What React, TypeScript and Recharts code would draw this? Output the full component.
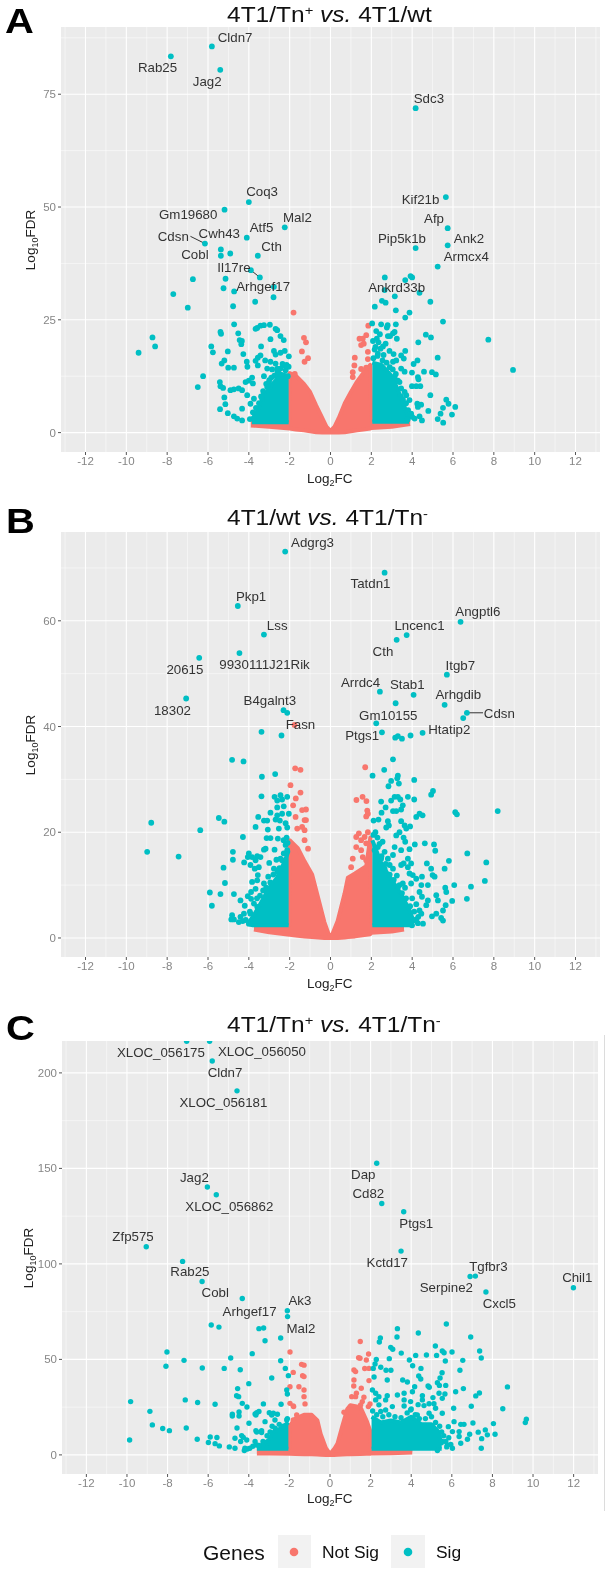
import React from 'react';
import { ComposedChart, Area, Scatter, XAxis, YAxis, CartesianGrid, ReferenceLine } from 'recharts';

type Pt = [number, number];
type Band = [number, number, number]; // x, low, high of the dense part of the volcano
type Gene = [string, number, number];

const RED = '#F8766D';
const TEAL = '#00BFC4';
const TICK_GREY = '#868686';

const xTicks = [-12, -10, -8, -6, -4, -2, 0, 2, 4, 6, 8, 10, 12];
const xMinor = [-13, -11, -9, -7, -5, -3, -1, 1, 3, 5, 7, 9, 11, 13];

// ---- Panel A
const aYTicks = [0, 25, 50, 75];
const aYMinor = [12.5, 37.5, 62.5, 87.5];
const aNotSigBand: Band[] = [[-3.9, 1.6, 2.2], [-3, 1.3, 2.6], [-2.01, 0.9, 2.6], [-2, 0.9, 13.2], [-1.7, 0.7, 12.6], [-1.3, 0.5, 10.8], [-1, 0.3, 9], [-0.7, 0.1, 6], [-0.4, 0, 3.2], [-0.2, 0, 1.3], [0, 0, 0.4], [0.2, 0, 1.3], [0.4, 0, 3.2], [0.7, 0.1, 6.5], [1, 0.3, 9], [1.3, 0.5, 11.3], [1.6, 0.7, 13.2], [1.95, 0.9, 15], [2, 1, 2.6], [3, 1.3, 2.6], [3.9, 1.9, 2.6]];
const aSigBandLeft: Band[] = [[-3.85, 2.3, 2.8], [-3.5, 2.3, 5.5], [-3.2, 2.3, 8.5], [-2.8, 2.3, 11], [-2.4, 2.3, 13], [-2.05, 2.3, 12.5]];
const aSigBandRight: Band[] = [[2.05, 2.4, 15.5], [2.5, 2.4, 15], [3, 2.4, 12.5], [3.3, 2.4, 9.5], [3.6, 2.4, 6], [3.85, 2.4, 3]];
const aNotSig: Pt[] = [[-1.81, 26.6], [-1.27, 15.7], [-1.75, 13], [-1.3, 21], [-1.2, 20], [-1.4, 18], [-1.1, 16.5], [1.85, 23.7], [1.42, 20.8], [1.58, 20.8], [1.75, 21.6], [1.63, 19.7], [1.5, 19.4], [1.83, 17.9], [1.83, 16.3], [1.19, 16.6], [1.17, 14.9], [1.5, 14.1], [1.75, 14.4], [1.09, 13.4], [1.09, 12.3]];
const aSig: Pt[] = [
  [-5.81, 85.6], [-7.82, 83.4], [-5.4, 80.4], [-4, 51.1], [-5.19, 49.4], [-2.24, 45.5], [-4.1, 43.2], [-6.15, 41.9], [-5.37, 40.6], [-4.91, 39.7], [-5.37, 39.2], [-3.56, 39.2],
  [4.17, 71.9], [5.65, 52.2], [5.74, 45.3], [5.74, 41.5], [4.17, 40.9], [5.25, 36.8],
  [-6.74, 34], [-5.14, 34.1], [-5.24, 32], [-4.72, 31.3], [-7.7, 30.7], [-6.99, 27.7], [-4.77, 28], [-3.69, 29], [-2.79, 30], [-2.77, 32.3], [-3.9, 36], [-3.46, 34.4],
  [-4.72, 24], [-5.39, 22.3], [-5.36, 21.9], [-4.52, 22], [-8.72, 21.1], [-8.59, 19.1], [-9.4, 17.7], [-4.45, 20.5], [-4.34, 20.3], [-4.37, 19.6], [-5.84, 19.1], [-5.76, 17.8], [-5.03, 18], [-4.27, 17.4], [-4.1, 15.7], [-4.07, 14.6], [-5.2, 16], [-5.33, 15.3], [-5.01, 14.4], [-4.73, 14.4],
  [-6.24, 12.5], [-6.5, 10.1], [-5.42, 11.2], [-5.39, 10.3], [-5.26, 9.9], [-4.9, 9.4], [-4.73, 9.6], [-4.5, 9.8], [-4.33, 9.4], [-4.08, 8.3], [-5.2, 7.8], [-5.15, 6.3], [-5.41, 5.2], [-5.03, 4.3], [-4.33, 5.3], [-4.73, 3.6], [-4.57, 3.1], [-4.33, 2.7], [-3.92, 6.4], [-3.75, 7.5], [-4.16, 11.2], [-4, 11.5], [-3.84, 12.2], [-3.8, 10.9],
  [-3.67, 23], [-3.59, 23.2], [-3.43, 23.7], [-3.26, 23.8], [-2.97, 23.9], [-2.69, 23], [-2.61, 22.7], [-2.45, 21.4], [-2.29, 20.5], [-2.94, 20.7], [-3.4, 19.1], [-2.77, 18.1], [-2.69, 17.3], [-2.45, 17.7], [-2.24, 18.1], [-2.04, 16.9], [-3.43, 17.1], [-3.56, 16.6], [-3.67, 15.9], [-3.56, 14.9], [-3.2, 16], [-2.94, 15.7], [-2.69, 15.3], [-3.1, 14.2], [-2.86, 14], [-2.29, 14.9], [-2.61, 14.2], [-3.26, 12.5], [-2.53, 13.1], [-2.09, 12.5], [-3.02, 11], [-3.1, 10.1], [-3.26, 8.6], [-3.35, 7.5],
  [-3.95, 3], [-3.8, 4.5], [-3.65, 5.5], [-3.5, 6.5], [-3.4, 8], [-3.3, 9.2], [-3.15, 10.8], [-3, 11.6], [-2.9, 12.2], [-2.75, 12.6], [-2.6, 13.5], [-2.45, 14.2], [-2.2, 13.8], [-3.6, 4], [-3.75, 3.2], [-2.15, 15], [-2.35, 15.2], [-2.05, 14.6],
  [2.66, 34.4], [3.66, 33.8], [3.92, 34.7], [4, 34.4], [2.65, 31.6], [4.36, 31], [4.89, 29], [3.15, 30.2], [2.52, 29.2], [2.7, 28.8], [2.17, 27.9], [3.2, 27.1], [3.87, 26.6], [3.66, 25.5], [5.51, 24.6], [2.04, 24.2], [2.48, 24], [2.8, 23.8], [2.76, 23.3], [3.2, 24], [2.24, 22.5], [2.42, 21.8], [2.81, 21.4], [2.92, 21.4], [3.14, 22.3], [3.06, 22], [3.25, 20.8], [2.08, 20.3], [2.27, 20.8], [2.7, 19.7], [2.57, 19.1], [4.67, 21.7], [4.92, 21.1], [4.3, 20], [7.73, 20.6], [8.94, 13.9], [3.66, 18.1], [2.16, 18.4], [2.32, 17.5], [2.89, 18.1], [3.09, 17.4], [3.46, 17.1], [3.59, 16.4], [5.25, 16.6], [4.26, 16], [4.07, 15.2], [3.06, 15.7], [3.22, 16],
  [3.46, 14.2], [3.63, 13.5], [3.99, 13.3], [4.58, 13.5], [4.97, 13.4], [5.16, 12.9], [4.28, 12.3], [4.31, 11.8], [3.99, 10.3], [4.2, 10.3], [4.4, 10.3], [4.89, 8.3], [5.67, 7.3], [5.78, 6.4], [6.11, 5.7], [5.51, 5.5], [5.39, 4.2], [5.25, 3], [5.95, 4], [5.52, 2.2], [4.25, 6.4], [4.44, 6.2], [4.28, 5.7], [4.79, 4.8], [4.36, 3.6], [4.48, 2.7], [4.12, 3.1], [3.87, 7.2], [3.71, 8.3], [3.46, 9.8], [3.63, 9], [3.38, 11.2], [3.14, 12.3],
  [2.1, 16.5], [2.3, 17], [2.55, 16], [2.75, 15.5], [2.9, 14.5], [3.05, 14], [3.2, 13], [3.3, 11.5], [3.45, 8], [3.55, 7.3], [3.7, 6.5], [3.8, 5], [3.95, 4.2], [4, 3.5], [2.2, 19], [2.35, 20], [2.45, 18.6], [2.6, 17.2], [3.78, 2.9],
];
const aGenes: Gene[] = [['Cldn7', -4.67, 87.7], ['Rab25', -8.47, 81], ['Jag2', -6.04, 77.9], ['Coq3', -3.35, 53.4], ['Gm19680', -6.97, 48.3], ['Mal2', -1.62, 47.8], ['Atf5', -3.38, 45.5], ['Cdsn', -7.7, 43.5], ['Cwh43', -5.45, 44.1], ['Cobl', -6.64, 39.4], ['Cth', -2.89, 41.3], ['Il17re', -4.73, 36.6], ['Arhgef17', -3.3, 32.5], ['Sdc3', 4.82, 74.1], ['Kif21b', 4.41, 51.7], ['Afp', 5.07, 47.4], ['Pip5k1b', 3.5, 43], ['Ank2', 6.78, 43], ['Armcx4', 6.65, 39.1], ['Ankrd33b', 3.24, 32.2]];
const aLeaders: [Pt, Pt][] = [[[-6.86, 43.5], [-6.15, 41.9]], [[-3.9, 36], [-3.46, 34.4]]];

// ---- Panel B
const bYTicks = [0, 20, 40, 60];
const bYMinor = [10, 30, 50, 70];
const bNotSigBand: Band[] = [[-3.75, 1.6, 2.4], [-3, 1.1, 2.4], [-2.01, 0.6, 2.4], [-2, 0.6, 18.5], [-1.6, 0.4, 17], [-1.27, 0.3, 14.5], [-0.9, 0.2, 12], [-0.6, 0.1, 7.5], [-0.3, 0, 3], [-0.1, 0, 0.8], [0, 0, 0.3], [0.1, 0, 0.8], [0.35, 0, 3.2], [0.69, 0.1, 8.4], [0.85, 0.2, 11.4], [1.2, 0.3, 12.2], [1.75, 0.6, 13.6], [1.95, 0.7, 19], [2, 1, 2.4], [3, 1.2, 2.4], [3.6, 1.6, 2.4]];
const bSigBandLeft: Band[] = [[-4, 2.6, 3], [-3.8, 2.4, 4], [-3.5, 2.4, 6], [-3, 2.4, 9.5], [-2.6, 2.4, 11.5], [-2.3, 2.4, 14], [-2.05, 2.4, 16.5]];
const bSigBandRight: Band[] = [[2.05, 2.4, 18.5], [2.5, 2.4, 14], [3, 2.4, 11], [3.5, 2.4, 8], [3.9, 2.4, 5], [4.1, 2.4, 2.8]];
const bNotSig: Pt[] = [[-1.76, 40.3], [-1.73, 32.1], [-1.47, 31.8], [-1.96, 28.9], [-1.47, 27.5], [-1.7, 26.4], [-1.71, 22.9], [-1.83, 25.1], [-1.39, 24.2], [-1.27, 20.4], [-1.63, 20.7], [-1.27, 22.3], [-1.39, 21], [-1.2, 24.3], [-1.2, 22.3], [-1.27, 18.5], [-1.1, 16.9], [1.7, 32.3], [1.27, 26.1], [1.57, 26.7], [1.76, 25.9], [1.8, 24.1], [1.75, 23], [1.83, 23.5], [1.26, 19.1], [1.39, 19.8], [1.5, 18.5], [1.67, 19.1], [1.26, 17.2], [1.75, 17.9], [1.01, 13.4], [1.09, 15], [1.58, 15.3], [1.75, 14.7], [1.5, 16.6], [1.83, 20]];
const bSig: Pt[] = [
  [-2.22, 73.1], [-4.54, 62.8], [-3.26, 57.4], [-4.46, 53.9], [-6.43, 53], [-7.07, 45.3], [-2.3, 43.1], [-2.12, 42.6], [-3.38, 39], [-2.4, 38.3],
  [2.65, 69.1], [6.37, 59.8], [3.73, 57.3], [3.24, 56.4], [5.7, 49.8], [2.42, 46.6], [4.07, 46], [3.19, 44.4], [5.59, 44.1], [6.68, 42.6], [6.5, 41.6], [2.24, 40.6], [2.52, 38.9], [3.17, 37.9], [3.3, 38.2], [3.5, 37.7], [3.92, 38.3], [4.51, 38.8],
  [-4.82, 33.7], [-4.26, 33.4], [-3.36, 30.5], [-2.71, 31], [-3.38, 26.8], [-2.74, 26.7], [-2.45, 27], [-2.12, 26.7], [-2.61, 26], [-2.37, 26.2], [-2.61, 24.7], [-2.29, 24.9], [-2.37, 23.5], [-2.04, 23.5], [-2.61, 23.2], [-2.94, 23.7], [-3.54, 22.9], [-3.26, 22.2], [-3.1, 22.2], [-2.69, 22.4], [-2.48, 22.2], [-2.2, 21.7], [-2.53, 20.7], [-2.12, 20.9], [-3.67, 21], [-3.07, 20.5],
  [-8.78, 21.8], [-5.47, 22.7], [-5.2, 22], [-6.38, 20.4], [-4.29, 19.1], [-3.13, 18.9], [-2.94, 18.9], [-2.58, 18.8], [-8.98, 16.3], [-7.44, 15.4], [-4.78, 16.3], [-4.78, 14.8], [-5.24, 13.3], [-5.17, 10.4], [-5.91, 8.6], [-5.39, 8.3], [-5.81, 6.1], [-4.73, 8.3], [-4.23, 14.3],
  [-4, 16], [-4.05, 15.3], [-3.84, 15.3], [-3.59, 15.5], [-3.43, 15.3], [-3.67, 14.7], [-3.92, 13.8], [-3.51, 13.4], [-3.71, 13.1], [-3.26, 16.7], [-3.18, 16.9], [-2.74, 16.7], [-3, 14.2], [-2.77, 13.1], [-2.58, 12.8], [-3.56, 11.9], [-3.84, 10.6], [-3.59, 10.9], [-3.67, 9.3], [-3.89, 8.7], [-4.05, 7.9], [-3.89, 7.4], [-4.41, 7.1], [-4.2, 6.1], [-3.26, 10.3], [-3.05, 11.6], [-4.82, 4.3], [-4.73, 3.5], [-4.86, 3.5], [-4.41, 4], [-4.49, 3], [-4.24, 4.6], [-4, 2.7], [-3.92, 4.6], [-3.59, 5.9], [-2.2, 17.6], [-2.12, 16.6], [-2.29, 16], [-2.37, 14.7],
  [-3.95, 5], [-3.75, 6.5], [-3.6, 7.5], [-3.45, 8], [-3.3, 9], [-3.15, 9.5], [-2.95, 10.5], [-2.8, 12], [-2.6, 12.5], [-2.45, 15], [-2.3, 18.5], [-2.15, 19], [-4.15, 3.4], [-4.3, 3.2], [-2.5, 13.2], [-2.65, 14.8], [-2.1, 18],
  [3.06, 33.8], [2.63, 31.8], [2.06, 30.7], [3.3, 30.7], [3.27, 30.2], [2.97, 29.7], [3.35, 29.2], [2.84, 28.7], [4.1, 29.9], [5.02, 27.8], [4.93, 27.1], [3.14, 26.7], [3.3, 26.7], [2.97, 26], [2.48, 25.8], [3.42, 26.2], [3.79, 26.7], [4.1, 26.2], [2.7, 24.7], [2.5, 23.7], [3.06, 24], [3.22, 24], [3.54, 25.1], [3.46, 24.3], [6.11, 23.8], [6.19, 23.4], [8.19, 24], [4.36, 23.5], [4.51, 23.2], [4.2, 22.9], [2.11, 22.2], [2.35, 22.4], [2.81, 22.1], [3.46, 22.1], [2.86, 21.3], [2.73, 20.9], [3.63, 21.3], [3.71, 20.7], [3.9, 21.1], [3.22, 19.4], [3.38, 20], [3.58, 19], [3.66, 18.2],
  [4.13, 17.7], [4.62, 17.9], [5.07, 17.7], [5.13, 16.5], [6.7, 16], [7.63, 14.3], [5.8, 14.6], [4.72, 14.1], [4.93, 13.1], [5.59, 13.1], [7.56, 10.8], [6.88, 9.7], [6.06, 10], [5.62, 9.5], [5.67, 8.7], [6.68, 7.4], [5.96, 7], [5.18, 8.1], [5.26, 7.1], [4.77, 7.1], [4.69, 6.2], [5.64, 6.2], [5.51, 5.2], [5.18, 4.6], [4.97, 4.1], [5.42, 3.8], [5.51, 3.3], [4.53, 2.7], [4.28, 2.8], [3.99, 2.4], [4.45, 4.6], [4.36, 5.2], [4.48, 7.8], [4.36, 8.7], [4.45, 10], [4.77, 10], [5.1, 11.6], [5, 11.9], [4.48, 11.6], [3.87, 12.2], [4.03, 11.9], [4.2, 11.2], [3.95, 14.1], [3.79, 13.4], [3.46, 13.8], [3.58, 14.1], [3.87, 16.8], [3.79, 15], [3.14, 17.2], [2.65, 16.3], [2.32, 17.2], [2.16, 16.6], [3.06, 15.7], [3.46, 16.6], [2.24, 14.7], [2.81, 15], [2.48, 15], [3.06, 13.1], [2.65, 13.1], [3.54, 10.3], [3.38, 10], [3.95, 10.3],
  [2.1, 19.5], [2.2, 20], [2.3, 19], [2.5, 15.5], [2.7, 14], [2.9, 12], [3.1, 11], [3.3, 9.5], [3.5, 8.5], [3.7, 7.5], [3.9, 6], [4.1, 5], [4.2, 3.5], [4.3, 4], [2.4, 17.8], [2.55, 18.2], [2.9, 13.8], [3.25, 11.8], [3.65, 9.5], [4, 7.5], [4.2, 6.4],
];
const bGenes: Gene[] = [['Adgrg3', -0.88, 74.9], ['Pkp1', -3.89, 64.7], ['Lss', -2.61, 59.2], ['9930111J21Rik', -3.23, 51.8], ['20615', -7.13, 50.9], ['18302', -7.74, 43.1], ['B4galnt3', -2.97, 45], ['Fasn', -1.47, 40.4], ['Tatdn1', 1.96, 67.1], ['Angptl6', 7.22, 61.7], ['Lncenc1', 4.36, 59.1], ['Cth', 2.57, 54.3], ['Itgb7', 6.36, 51.6], ['Arrdc4', 1.47, 48.4], ['Stab1', 3.76, 47.9], ['Arhgdib', 6.26, 46], ['Cdsn', 8.27, 42.5], ['Gm10155', 2.83, 42.2], ['Htatip2', 5.82, 39.5], ['Ptgs1', 1.55, 38.4]];
const bLeaders: [Pt, Pt][] = [[[6.68, 42.6], [7.47, 42.6]]];

// ---- Panel C
const cYTicks = [0, 50, 100, 150, 200];
const cYMinor = [25, 75, 125, 175];
const cNotSigBand: Band[] = [[-3.6, 0.7, 3.2], [-3, 0.7, 3.2], [-2.01, 0.6, 3.2], [-2, 0.6, 15], [-1.7, 0.5, 19], [-1.28, 0.4, 21], [-0.9, 0.3, 21], [-0.62, 0.2, 18], [-0.46, 0.1, 11], [-0.2, 0, 3.5], [0, 0, 0.5], [0.2, 0, 3], [0.37, 0.1, 6], [0.6, 0.2, 14.8], [0.85, 0.3, 24], [1, 0.4, 26], [1.5, 0.5, 25], [1.8, 0.6, 18], [1.97, 0.6, 13], [2, 0.7, 3.2], [3, 0.9, 3.2], [4.05, 1.2, 3]];
const cSigBandLeft: Band[] = [[-3.6, 3.2, 4], [-3.3, 3.2, 5.5], [-3, 3.2, 8], [-2.8, 3.2, 12], [-2.4, 3.2, 14], [-2.05, 3.2, 17]];
const cSigBandRight: Band[] = [[2.05, 3.2, 20], [2.5, 3.2, 17], [3, 3.2, 18], [3.5, 3.2, 17], [4, 3.2, 20], [4.5, 3.2, 16], [5, 3.2, 16], [5.35, 3.2, 12], [5.5, 3.2, 5]];
const cNotSig: Pt[] = [[-1.97, 53.9], [-1.81, 43.2], [-1.79, 25.3], [-1.4, 47.4], [-1.35, 41.5], [-1.97, 35.7], [-1.53, 35.7], [-1.28, 34], [-1.97, 27], [-1.81, 25.6], [-1.64, 20.9], [-1.81, 18.3], [-1.28, 30.5], [-1.23, 26.7], [-1.28, 47], [-1.28, 41], [1.49, 59.4], [1.9, 52.8], [1.48, 50.6], [1.79, 49.7], [1.41, 50.9], [1.18, 44.5], [1.26, 43.6], [1.71, 45.2], [1.92, 45.3], [1.18, 39.2], [1.92, 38.9], [1.17, 36.1], [1.54, 34.9], [1.3, 32.3], [1.07, 30.5], [1.26, 30.5], [1.67, 30.2], [1.59, 27.9], [1.51, 26.2], [1.97, 26.7], [1.89, 25.3], [0.69, 22.3], [0.85, 20]];
const cSig: Pt[] = [
  [-7.06, 216.6], [-5.93, 216.6], [-5.8, 206.2], [-4.58, 190.6], [-6.04, 140.3], [-5.6, 136.2], [-9.05, 109], [-7.26, 101.3], [-6.3, 90.8],
  [2.3, 152.7], [2.55, 131.6], [3.63, 127.3], [3.5, 106.7], [6.9, 93.4], [7.16, 93.6], [11.99, 87.5], [7.68, 85.3],
  [5.73, 68.5], [3.32, 66.1], [3.3, 61.7], [4.35, 63.8], [2.48, 61.2], [2.43, 59.1], [6.93, 61.7], [2.99, 56.3], [3.09, 55.3], [5.19, 57], [3.51, 53.3], [4.22, 52.1], [4.75, 52.3], [5.25, 52.1], [5.53, 54.4], [5.62, 53.5], [6.01, 53.9], [7.37, 54.4], [7.45, 50.7], [2.92, 50.4], [3.91, 49.7], [4.07, 46.7], [6.54, 49.5], [5.68, 49.2], [2.28, 50], [2.22, 47.6], [2.13, 45.3], [2.5, 45.9], [2.76, 44.3], [3, 44.3], [4.48, 45.3], [6.4, 44.3], [5.52, 43], [4.37, 41.3], [4.47, 39.7], [5.42, 40.3], [5.29, 37.8], [5.39, 36.4], [2.17, 40.8], [2.82, 39.2], [3.58, 39.2], [3.81, 38.2], [4.17, 35.7], [4.83, 36.1], [4.89, 35.4], [5.7, 36.4], [8.74, 35.6], [6.57, 34.7], [6.19, 33.1], [7.36, 32.4], [7.18, 30.9], [5.66, 31.9], [5.37, 32.3], [5.53, 29.6], [5.07, 30], [4.55, 31], [4.55, 28.8], [2.09, 34], [2.25, 32.3], [2.41, 30.5], [2.82, 31], [2.74, 28.8], [3.32, 31.4], [3.65, 32.3], [4.06, 33.1], [3.65, 28.8], [3.97, 27.9],
  [6.96, 25.5], [8.51, 24.2], [6.09, 24.4], [9.67, 18.7], [9.62, 16.9], [8.05, 16.4], [8.13, 10.8], [7.04, 16.7], [7.65, 13.1], [7.75, 10.5], [7.47, 8.5], [7.45, 3.5], [7.3, 11.9], [6.88, 10.8], [6.77, 8.2], [6.44, 6.1], [6.36, 12.2], [6.11, 17.4], [6.44, 16], [6.6, 16], [5.83, 14.8], [6.03, 12.2], [6.36, 9.6], [6.03, 3.5], [5.78, 5.2], [5.53, 7], [5.29, 2.3], [5.53, 21.8], [5.12, 26.8], [4.88, 26.8], [4.63, 25.8], [4.34, 26.3], [4.88, 21.8], [5.2, 24.4], [3.07, 25.3], [2.74, 23.5], [3.65, 25.6], [3.97, 23.5], [4.3, 20.9], [2.41, 26.2], [2.25, 28.8], [2.5, 22.7],
  [2.1, 23], [2.3, 21], [2.6, 20], [2.9, 21], [3.2, 20], [3.5, 19.5], [3.8, 22], [4, 24], [4.2, 21], [4.4, 19], [4.7, 19], [5, 20], [5.2, 17], [5.4, 15], [5.6, 10], [5.7, 7], [5.5, 12], [5.75, 4.2], [5.95, 5.5], [5.85, 9],
  [-4.32, 81.9], [-2.1, 75.5], [-2.09, 72.4], [-5.85, 68], [-5.47, 66.9], [-3.5, 66.1], [-3.27, 66.4], [-3.2, 59.8], [-2.43, 61.2], [-8.03, 53.9], [-3.83, 53], [-4.89, 50.7], [-7.19, 49.5], [-2.43, 49.3], [-8.08, 46.4], [-6.29, 45.5], [-5.21, 45.3], [-4.42, 44.6], [-2.2, 45.3], [-2.05, 41.5], [-2.87, 40.3], [-4, 37.3], [-4.55, 34.7], [-4.6, 31], [-4.5, 30.5], [-2.13, 34], [-2.1, 31.9], [-9.82, 27.9], [-7.13, 28.8], [-6.52, 27.4], [-5.66, 26.5], [-4.32, 27], [-4.09, 25.1], [-3.28, 26.7], [-2.41, 26.5], [-8.87, 22.8], [-4.81, 21.3], [-4.81, 20.4], [-4.48, 22.5], [-4.48, 20.4], [-3.69, 21.4], [-3.61, 22.1], [-3.5, 22.7], [-3.65, 20.9], [-2.99, 22.1], [-2.79, 21.8], [-2.59, 21.3], [-2.87, 20.9], [-2.71, 18.3], [-3.2, 17.4], [-2.13, 18.3], [-8.75, 15.7], [-3.99, 16.6], [-8.24, 13.8], [-7.91, 12.7], [-7.08, 14.1], [-4.58, 14.1], [-3.65, 12.7], [-3.61, 12], [-3.37, 12.7], [-3.37, 11.7], [-5.9, 9.4], [-5.57, 9.1], [-6.54, 8.2], [-9.87, 7.8], [-4.68, 8.7], [-4.35, 10.1], [-4.27, 9.2], [-4.4, 7], [-4.1, 7.8], [-5.99, 6.5], [-5.66, 5.9], [-5.45, 4.7], [-4.96, 4.2], [-4.68, 3.5], [-4.19, 3.5], [-4.22, 2.3], [-4.07, 3.1], [-3.69, 7], [-3.61, 5.2], [-3.28, 5.2], [-2.96, 6.1],
  [-3.3, 7], [-3.1, 10], [-2.95, 12], [-2.7, 14], [-2.5, 16], [-2.3, 15], [-2.1, 19], [-3.5, 5], [-3.8, 4.5], [-3.95, 3.5], [-2.85, 15],
];
const cGenes: Gene[] = [['XLOC_056175', -8.33, 210.9], ['XLOC_056050', -3.35, 211.3], ['Cldn7', -5.17, 200.5], ['XLOC_056181', -5.25, 184.8], ['Jag2', -6.68, 145.2], ['XLOC_056862', -4.96, 130.2], ['Zfp575', -9.7, 114.2], ['Rab25', -6.9, 96.2], ['Cobl', -5.65, 84.9], ['Arhgef17', -3.96, 75], ['Ak3', -1.48, 80.7], ['Mal2', -1.43, 66.2], ['Dap', 1.64, 147], ['Cd82', 1.89, 136.7], ['Ptgs1', 4.25, 121.2], ['Kctd17', 2.82, 100.8], ['Tgfbr3', 7.8, 98.7], ['Serpine2', 5.73, 87.5], ['Cxcl5', 8.34, 79.3], ['Chil1', 12.18, 92.7]];

const toPoints = (pts: Pt[]) => pts.map(([x, y]) => ({ x, y }));
const toBand = (rows: Band[]) => rows.map(([x, low, high]) => ({ x, range: [low, high] }));
const toGenes = (rows: Gene[]) => rows.map(([name, x, y]) => ({ name, x, y }));

const sans = "'Liberation Sans', Arial, sans-serif";

function dotShape(color: string, r: number) {
  return (props: any) => <circle cx={props.cx} cy={props.cy} r={r} fill={color} />;
}

function geneLabel(props: any) {
  return (
    <text x={props.cx} y={props.cy} dy=".35em" textAnchor="middle" fontSize={13.3} fontFamily={sans} fill="#333">
      {props.payload.name}
    </text>
  );
}

interface PanelProps {
  top: number;
  left: number;
  right: number;
  marginTop: number;
  axisHeight: number;
  yDomain: [number, number];
  yTicks: number[];
  yMinor: number[];
  notSigBand: Band[];
  sigLeft: Band[];
  sigRight: Band[];
  notSig: Pt[];
  sig: Pt[];
  genes: Gene[];
  leaders?: [Pt, Pt][];
  dot: number;
}

function Panel(p: PanelProps) {
  const tickStyle = { fontSize: 11.5, fill: TICK_GREY, fontFamily: sans };
  return (
    <div style={{ position: 'absolute', left: 0, top: p.top }}>
      <ComposedChart width={608} height={500} margin={{ top: p.marginTop, right: p.right, bottom: 0, left: 0 }}>
        <CartesianGrid fill="#EBEBEB" fillOpacity={1} stroke="#fff" strokeWidth={0.5} verticalValues={xMinor} horizontalValues={p.yMinor} />
        <CartesianGrid stroke="#fff" strokeWidth={1.1} verticalValues={xTicks} horizontalValues={p.yTicks} />
        <XAxis dataKey="x" type="number" domain={[-13.2, 13.2]} ticks={xTicks} interval={0} height={p.axisHeight} tick={tickStyle} tickSize={3} tickMargin={2} axisLine={false} tickLine={{ stroke: '#555' }} />
        <YAxis dataKey="y" type="number" domain={p.yDomain} ticks={p.yTicks} interval={0} width={p.left} tick={tickStyle} tickSize={3} tickMargin={2} axisLine={false} tickLine={{ stroke: '#555' }} allowDataOverflow />
        <Area data={toBand(p.notSigBand)} dataKey="range" type="linear" fill={RED} fillOpacity={1} stroke={RED} strokeWidth={4} strokeLinejoin="round" isAnimationActive={false} dot={false} activeDot={false} />
        <Area data={toBand(p.sigLeft)} dataKey="range" type="linear" fill={TEAL} fillOpacity={1} stroke={TEAL} strokeWidth={4} strokeLinejoin="round" isAnimationActive={false} dot={false} activeDot={false} />
        <Area data={toBand(p.sigRight)} dataKey="range" type="linear" fill={TEAL} fillOpacity={1} stroke={TEAL} strokeWidth={4} strokeLinejoin="round" isAnimationActive={false} dot={false} activeDot={false} />
        <Scatter data={toPoints(p.notSig)} shape={dotShape(RED, p.dot)} isAnimationActive={false} />
        <Scatter data={toPoints(p.sig)} shape={dotShape(TEAL, p.dot)} isAnimationActive={false} />
        {(p.leaders ?? []).map((seg, i) => (
          <ReferenceLine key={i} segment={[{ x: seg[0][0], y: seg[0][1] }, { x: seg[1][0], y: seg[1][1] }]} stroke="#333" strokeWidth={1} />
        ))}
        <Scatter data={toGenes(p.genes)} shape={geneLabel} isAnimationActive={false} />
      </ComposedChart>
    </div>
  );
}

// the source figure is stretched sideways, so the big text needs the same stretch
function PanelTitle({ y, first, firstSup, second, secondSup }: { y: number; first: string; firstSup?: string; second: string; secondSup?: string }) {
  return (
    <text transform={`translate(227,${y}) scale(1.14,1)`} fontSize={21.5} fontFamily={sans} fill="#111">
      {first}
      {firstSup ? <tspan dy={-7} fontSize={13}>{firstSup}</tspan> : null}
      <tspan dy={firstSup ? 7 : 0} fontStyle="italic"> vs.</tspan>
      <tspan> {second}</tspan>
      {secondSup ? <tspan dy={-7} fontSize={13}>{secondSup}</tspan> : null}
    </text>
  );
}

function PanelLetter({ x, y, letter }: { x: number; y: number; letter: string }) {
  return (
    <text transform={`translate(${x},${y}) scale(1.14,1)`} fontSize={35} fontWeight="bold" fontFamily={sans} fill="#000">{letter}</text>
  );
}

function XTitle({ y }: { y: number }) {
  return (
    <text x={307} y={y} fontSize={13.5} fontFamily={sans} fill="#222">
      Log<tspan dy={3} fontSize={9}>2</tspan><tspan dy={-3}>FC</tspan>
    </text>
  );
}

function YTitle({ x, y }: { x: number; y: number }) {
  return (
    <text transform={`translate(${x},${y}) rotate(-90)`} textAnchor="middle" fontSize={13.5} fontFamily={sans} fill="#222">
      Log<tspan dy={3} fontSize={9}>10</tspan><tspan dy={-3}>FDR</tspan>
    </text>
  );
}

export default function App() {
  return (
    <div style={{ position: 'absolute', left: 0, top: 0, width: 608, height: 1573, background: '#fff', overflow: 'hidden', filter: 'blur(0.4px)' }}>
      <Panel top={0} left={61} right={8} marginTop={27} axisHeight={48} yDomain={[-4.3, 89.9]} yTicks={aYTicks} yMinor={aYMinor} notSigBand={aNotSigBand} sigLeft={aSigBandLeft} sigRight={aSigBandRight} notSig={aNotSig} sig={aSig} genes={aGenes} leaders={aLeaders} dot={2.9} />
      <Panel top={500} left={61} right={8} marginTop={32} axisHeight={43} yDomain={[-3.6, 76.8]} yTicks={bYTicks} yMinor={bYMinor} notSigBand={bNotSigBand} sigLeft={bSigBandLeft} sigRight={bSigBandRight} notSig={bNotSig} sig={bSig} genes={bGenes} leaders={bLeaders} dot={2.9} />
      <Panel top={1000} left={62} right={10} marginTop={41} axisHeight={26} yDomain={[-10, 216.7]} yTicks={cYTicks} yMinor={cYMinor} notSigBand={cNotSigBand} sigLeft={cSigBandLeft} sigRight={cSigBandRight} notSig={cNotSig} sig={cSig} genes={cGenes} dot={2.7} />

      <div style={{ position: 'absolute', left: 604, top: 1035, width: 1, height: 476, background: '#dcdcdc' }} />
      <div style={{ position: 'absolute', left: 278, top: 1535, width: 33, height: 33, background: '#F2F2F2' }} />
      <div style={{ position: 'absolute', left: 391, top: 1535, width: 34, height: 33, background: '#F2F2F2' }} />

      <svg width={608} height={1573} style={{ position: 'absolute', left: 0, top: 0, pointerEvents: 'none' }}>
        <PanelLetter x={5} y={33} letter="A" />
        <PanelLetter x={6} y={533} letter="B" />
        <PanelLetter x={6} y={1040} letter="C" />
        <PanelTitle y={22} first="4T1/Tn" firstSup="+" second="4T1/wt" />
        <PanelTitle y={525} first="4T1/wt" second="4T1/Tn" secondSup="-" />
        <PanelTitle y={1032} first="4T1/Tn" firstSup="+" second="4T1/Tn" secondSup="-" />
        <XTitle y={482.7} />
        <XTitle y={988} />
        <XTitle y={1503} />
        <YTitle x={35} y={240} />
        <YTitle x={35} y={745} />
        <YTitle x={33} y={1258} />
        <text x={203} y={1560} fontSize={21} fontFamily={sans} fill="#111">Genes</text>
        <circle cx={294} cy={1552} r={4.3} fill={RED} />
        <text x={322} y={1558} fontSize={17.4} fontFamily={sans} fill="#111">Not Sig</text>
        <circle cx={408} cy={1552} r={4.3} fill={TEAL} />
        <text x={436} y={1558} fontSize={17.4} fontFamily={sans} fill="#111">Sig</text>
      </svg>
    </div>
  );
}
